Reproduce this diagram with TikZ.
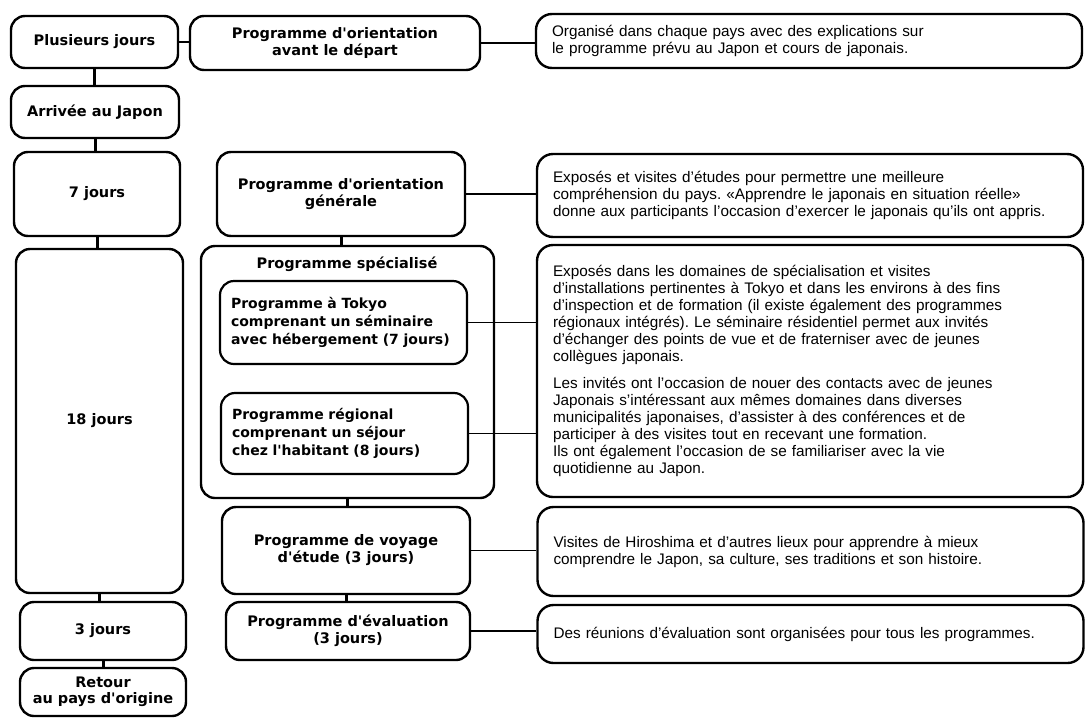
\documentclass[tikz,border=0pt]{standalone}
\usepackage{fontspec}
\setmainfont{Liberation Sans}
\newfontfamily\lblfont{DejaVu Sans}
\frenchspacing
\begin{document}
\begin{tikzpicture}[x=1pt,y=-1pt,
  lbl/.style={font=\fontsize{14.5}{17}\selectfont\lblfont\bfseries},
  box/.style={lbl, draw, line width=2.4pt, rounded corners=14pt, inner sep=0pt, align=center},
  ibox/.style={font=\fontsize{14}{18}\selectfont\lblfont\bfseries, draw, line width=2.2pt, rounded corners=14pt, inner xsep=11pt, inner ysep=0pt, align=left},
  desc/.style={draw, line width=2.4pt, rounded corners=16pt, inner xsep=16pt, inner ysep=0pt, align=left, text width=514pt, minimum width=546pt, font=\fontsize{15.3}{17}\selectfont},
  conn/.style={line width=1.6pt},
  vconn/.style={line width=3pt},
  tconn/.style={line width=1.1pt}]
\fill[white] (0,0) rectangle (1086,718);
\useasboundingbox (0,0) rectangle (1086,718);

% left column
\node[box, minimum width=167pt, minimum height=52pt] (plus) at (94.5,42) {Plusieurs jours};
\node[box, minimum width=168pt, minimum height=52pt] (arr) at (95,112) {Arrivée au Japon};
\node[box, minimum width=166pt, minimum height=84pt] (sept) at (97,194) {7 jours};
\node[box, minimum width=167pt, minimum height=344pt] (dix) at (99.5,421) {18 jours};
\node[box, minimum width=166pt, minimum height=58pt] (trois) at (103,631) {3 jours};
\node[box, minimum width=166pt, minimum height=48pt, font=\fontsize{14.5}{16}\selectfont\lblfont\bfseries] (retour) at (103,692) {Retour\\au pays d'origine};

% middle column
\node[box, minimum width=290pt, minimum height=54pt] (avant) at (335,43) {Programme d'orientation\\avant le départ};
\node[box, minimum width=248pt, minimum height=84pt] (gen) at (341,194) {Programme d'orientation\\générale};
\node[box, minimum width=293pt, minimum height=252pt] (spec) at (347.5,372) {};
\node[lbl] (spectitle) at (347,264) {Programme spécialisé};
\node[ibox, text width=225pt, minimum width=247pt, minimum height=83pt] (tokyo) at (343.5,322.5) {Programme à Tokyo\\comprenant un séminaire\\avec hébergement (7 jours)};
\node[ibox, text width=225pt, minimum width=247pt, minimum height=81pt] (region) at (344.5,433.5) {Programme régional\\comprenant un séjour\\chez l'habitant (8 jours)};
\node[box, minimum width=248pt, minimum height=87pt] (voyage) at (346,550.5) {Programme de voyage\\d'étude (3 jours)};
\node[box, minimum width=244pt, minimum height=58pt] (eval) at (348,631) {Programme d'évaluation\\(3 jours)};

% right column
\node[desc, minimum height=54pt] (r1) at (809,41) {Organisé dans chaque pays avec des explications sur\\le programme prévu au Japon et cours de japonais.};
\node[desc, minimum height=83pt] (r2) at (810,195.5) {Exposés et visites d'études pour permettre une meilleure\\compréhension du pays. «Apprendre le japonais en situation réelle»\\donne aux participants l'occasion d'exercer le japonais qu'ils ont appris.};
\node[desc, minimum height=252pt] (r3) at (810,371) {Exposés dans les domaines de spécialisation et visites\\d'installations pertinentes à Tokyo et dans les environs à des fins\\d'inspection et de formation (il existe également des programmes\\régionaux intégrés). Le séminaire résidentiel permet aux invités\\d'échanger des points de vue et de fraterniser avec de jeunes\\collègues japonais.\\[10pt]Les invités ont l'occasion de nouer des contacts avec de jeunes\\Japonais s'intéressant aux mêmes domaines dans diverses\\municipalités japonaises, d'assister à des conférences et de\\participer à des visites tout en recevant une formation.\\Ils ont également l'occasion de se familiariser avec la vie\\quotidienne au Japon.};
\node[desc, minimum height=89pt] (r4) at (810.5,551.5) {Visites de Hiroshima et d'autres lieux pour apprendre à mieux\\comprendre le Japon, sa culture, ses traditions et son histoire.\\[8pt]};
\node[desc, minimum height=58pt] (r5) at (810.5,634) {Des réunions d'évaluation sont organisées pour tous les programmes.};

% vertical connectors
\draw[vconn] (plus.south) -- (plus.south |- arr.north);
\draw[vconn] (arr.south) -- (arr.south |- sept.north);
\draw[vconn] (sept.south) -- (sept.south |- dix.north);
\draw[vconn] (dix.south) -- (dix.south |- trois.north);
\draw[vconn] (trois.south) -- (trois.south |- retour.north);
\draw[vconn] (gen.south) -- (gen.south |- spec.north);
\draw[vconn] (spec.south) -- (spec.south |- voyage.north);
\draw[vconn] (voyage.south) -- (voyage.south |- eval.north);

% horizontal connectors
\draw[conn] (plus.east) -- (plus.east -| avant.west);
\draw[conn] (avant.east) -- (avant.east -| r1.west);
\draw[conn] (gen.east) -- (gen.east -| r2.west);
\draw[tconn] (tokyo.east) -- (tokyo.east -| r3.west);
\draw[tconn] (region.east) -- (region.east -| r3.west);
\draw[conn] (voyage.east) -- (voyage.east -| r4.west);
\draw[conn] (eval.east) -- (eval.east -| r5.west);
\end{tikzpicture}
\end{document}
